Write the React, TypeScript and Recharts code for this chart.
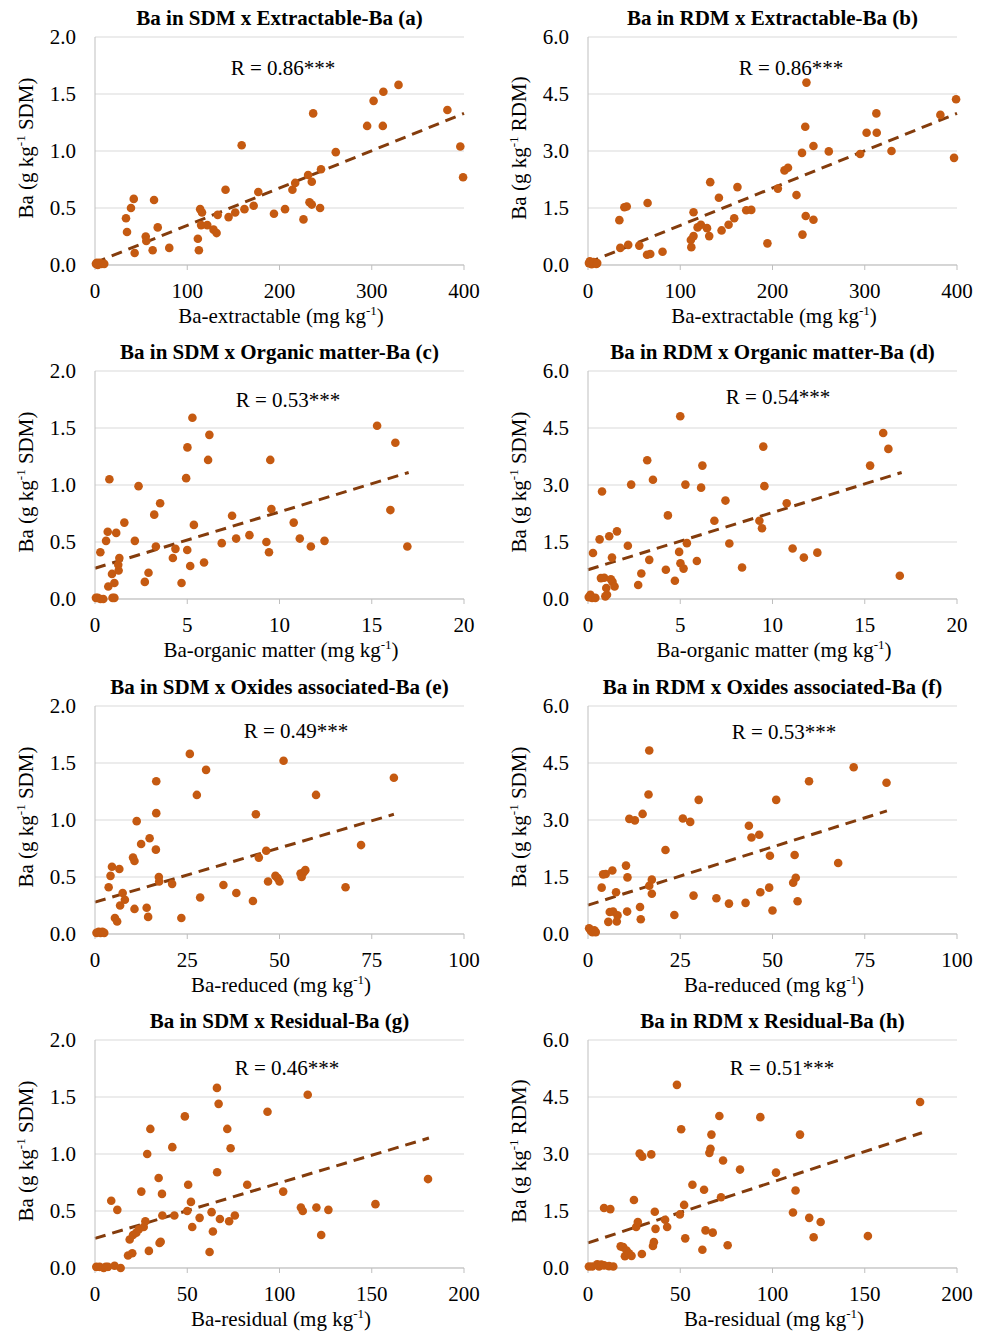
import React from 'react';
import { ScatterChart, Scatter, XAxis, YAxis, CartesianGrid, ReferenceLine } from 'recharts';

const DOT = '#c55a11';
const TREND = '#843c0c';
const GRID = '#d9d9d9';
const AXIS = '#bfbfbf';
const FONT = '"Liberation Serif", "Times New Roman", serif';

type Pt = [number, number];

const ticksExtractable = [0, 100, 200, 300, 400];
const ticksOrganic = [0, 5, 10, 15, 20];
const ticksReduced = [0, 25, 50, 75, 100];
const ticksResidual = [0, 50, 100, 150, 200];
const ticksSdm = [0, 0.5, 1, 1.5, 2];
const ticksRdm = [0, 1.5, 3, 4.5, 6];

// (a) Ba in SDM vs extractable Ba
const extractableSdm: Pt[] = [
  [1, 0.01], [3, 0.0], [5, 0.02], [7, 0.01], [10, 0.01], [2, 0.02],
  [33.6, 0.41], [34.7, 0.29], [39, 0.5], [42, 0.58], [43, 0.105], [55, 0.25], [55.6, 0.21],
  [62.5, 0.13], [64, 0.57], [68, 0.33], [80.5, 0.15], [111.5, 0.23], [112.6, 0.13], [114, 0.49],
  [116, 0.46], [115, 0.35], [121.7, 0.35], [128.5, 0.31], [131.8, 0.28], [133, 0.44], [141.5, 0.66],
  [144.8, 0.42], [152, 0.46], [159, 1.05], [162, 0.49], [172, 0.52], [177, 0.64], [194, 0.45],
  [206, 0.49], [214, 0.66], [217, 0.72], [226, 0.4], [231, 0.79], [232.5, 0.55], [235, 0.53],
  [235, 0.73], [236.5, 1.33], [244, 0.5], [245, 0.84], [261, 0.99], [295, 1.22], [302, 1.44],
  [312, 1.22], [312.6, 1.52], [329, 1.58], [382, 1.36], [396, 1.04], [399, 0.77],
];
const trendA: Pt[] = [[0, 0.02], [400, 1.33]];

// (b) Ba in RDM vs extractable Ba
const extractableRdm: Pt[] = [
  [1, 0.05], [2, 0.1], [4, 0.02], [6, 0.08], [9, 0.03], [10, 0.05],
  [34, 1.18], [35, 0.45], [39.4, 1.52], [42, 1.54], [43.6, 0.53], [55.6, 0.51], [64, 0.27],
  [64.6, 1.63], [67.5, 0.29], [80.8, 0.35], [112, 0.47], [111.5, 0.66], [114.4, 0.76], [114.4, 1.39],
  [118.8, 0.99], [122.4, 1.06], [129, 0.97], [131.4, 0.76], [132.5, 2.18], [141.9, 1.77], [144.8, 0.91],
  [152.4, 1.06], [158.5, 1.23], [162, 2.05], [171.5, 1.44], [177, 1.45], [194.5, 0.57], [205.8, 2.01],
  [213, 2.49], [216.8, 2.56], [226, 1.84], [232, 2.95], [232.5, 0.8], [235.5, 3.64], [236, 1.29],
  [236.8, 4.8], [244.4, 3.13], [244.4, 1.19], [261, 2.99], [295, 2.92], [302, 3.48], [312.6, 3.99],
  [313, 3.48], [329, 3.0], [382, 3.95], [396.8, 2.82], [399, 4.36],
];
const trendB: Pt[] = [[0, 0.06], [400, 3.99]];

// (c) Ba in SDM vs organic matter Ba
const organicSdm: Pt[] = [
  [0.05, 0.01], [0.15, 0.01], [0.3, 0.0], [0.45, 0.0], [0.95, 0.01], [1.05, 0.01],
  [0.29, 0.41], [0.6, 0.51], [0.69, 0.59], [0.78, 1.05], [0.72, 0.11], [0.92, 0.22], [1.05, 0.14],
  [1.15, 0.58], [1.28, 0.25], [1.26, 0.3], [1.32, 0.36], [1.59, 0.67], [2.16, 0.51], [2.36, 0.99],
  [2.7, 0.15], [2.9, 0.23], [3.21, 0.74], [3.3, 0.46], [3.53, 0.84], [4.22, 0.36], [4.36, 0.44],
  [4.69, 0.14], [4.94, 1.06], [5.0, 0.43], [5.01, 1.33], [5.16, 0.29], [5.28, 1.59], [5.36, 0.65],
  [5.91, 0.32], [6.13, 1.22], [6.2, 1.44], [6.87, 0.49], [7.43, 0.73], [7.65, 0.53], [8.37, 0.56],
  [9.29, 0.5], [9.43, 0.41], [9.5, 1.22], [9.56, 0.79], [10.77, 0.67], [11.1, 0.53], [11.7, 0.46],
  [12.44, 0.51], [15.29, 1.52], [16.01, 0.78], [16.28, 1.37], [16.93, 0.46],
];
const trendC: Pt[] = [[0, 0.27], [17, 1.11]];

// (d) Ba in RDM vs organic matter Ba
const organicRdm: Pt[] = [
  [0.04, 0.05], [0.13, 0.11], [0.22, 0.03], [0.4, 0.03], [0.94, 0.07], [1.03, 0.11],
  [0.27, 1.21], [0.63, 1.57], [0.76, 2.83], [0.7, 0.55], [0.88, 0.56], [0.99, 0.29], [1.15, 1.65],
  [1.24, 0.52], [1.3, 1.09], [1.33, 0.45], [1.44, 0.33], [1.57, 1.78], [2.16, 1.4], [2.34, 3.01],
  [2.72, 0.37], [2.89, 0.67], [3.21, 3.65], [3.32, 1.03], [3.52, 3.14], [4.22, 0.77], [4.33, 2.2],
  [4.71, 0.48], [4.94, 1.24], [5.0, 4.81], [5.01, 0.94], [5.18, 0.8], [5.28, 3.01], [5.36, 1.47],
  [5.9, 1.0], [6.13, 2.93], [6.2, 3.51], [6.85, 2.06], [7.45, 2.59], [7.66, 1.46], [8.35, 0.83],
  [9.29, 2.06], [9.43, 1.86], [9.5, 4.01], [9.56, 2.97], [10.77, 2.52], [11.09, 1.33], [11.7, 1.09],
  [12.43, 1.22], [15.29, 3.51], [16.0, 4.37], [16.28, 3.95], [16.9, 0.61],
];
const trendD: Pt[] = [[0, 0.77], [17, 3.33]];

// (e) Ba in SDM vs oxide associated Ba
const reducedSdm: Pt[] = [
  [0.4, 0.01], [1, 0.02], [1.5, 0.01], [2, 0.02], [2.5, 0.01],
  [3.7, 0.41], [4.2, 0.51], [4.6, 0.59], [5.4, 0.14], [6.0, 0.11], [6.6, 0.57], [6.8, 0.25],
  [7.5, 0.36], [8.1, 0.3], [10.3, 0.67], [10.7, 0.64], [10.7, 0.22], [11.3, 0.99], [12.5, 0.79],
  [14.0, 0.23], [14.4, 0.15], [14.8, 0.84], [16.5, 0.74], [16.6, 1.06], [16.6, 1.34], [17.3, 0.5],
  [17.4, 0.46], [20.9, 0.44], [23.4, 0.14], [25.7, 1.58], [27.6, 1.22], [28.5, 0.32], [30.1, 1.44],
  [34.8, 0.43], [38.3, 0.36], [42.8, 0.29], [43.6, 1.05], [44.4, 0.67], [46.4, 0.73], [46.9, 0.46],
  [48.9, 0.51], [49.5, 0.49], [50, 0.46], [51.1, 1.52], [55.7, 0.53], [56, 0.5], [56.5, 0.54],
  [57, 0.56], [59.9, 1.22], [67.9, 0.41], [72.1, 0.78], [81, 1.37],
];
const trendE: Pt[] = [[0, 0.28], [81, 1.05]];

// (f) Ba in RDM vs oxide associated Ba
const reducedRdm: Pt[] = [
  [0.3, 0.15], [0.8, 0.08], [1.2, 0.05], [1.7, 0.1], [2.1, 0.05],
  [3.7, 1.22], [4.1, 1.57], [4.8, 1.58], [5.5, 0.32], [5.9, 0.58], [6.6, 1.67], [6.8, 0.59],
  [7.6, 1.1], [7.8, 0.33], [8.0, 0.49], [10.3, 1.8], [10.6, 0.59], [10.7, 1.49], [11.2, 3.03],
  [12.7, 2.99], [14.1, 0.71], [14.3, 0.39], [14.8, 3.16], [16.4, 3.67], [16.6, 4.83], [16.6, 1.27],
  [17.3, 1.43], [17.3, 1.06], [21.0, 2.21], [23.4, 0.5], [25.7, 3.04], [27.7, 2.95], [28.6, 1.01],
  [30.0, 3.53], [34.8, 0.94], [38.2, 0.8], [42.7, 0.82], [43.6, 2.85], [44.3, 2.54], [46.4, 2.61],
  [46.7, 1.1], [49.1, 1.22], [49.3, 2.06], [50.0, 0.62], [51.0, 3.53], [55.6, 1.35], [56.0, 2.08],
  [56.3, 1.48], [56.8, 0.86], [59.9, 4.02], [67.8, 1.87], [72.0, 4.39], [80.9, 3.98],
];
const trendF: Pt[] = [[0, 0.76], [81, 3.24]];

// (g) Ba in SDM vs residual Ba
const residualSdm: Pt[] = [
  [0.7, 0.01], [2.5, 0.01], [4.7, 0.0], [5.8, 0.01], [7, 0.01], [10.6, 0.02], [13.9, 0.0],
  [8.8, 0.59], [12.1, 0.51], [17.9, 0.11], [18.8, 0.25], [20.2, 0.13], [20.6, 0.29], [22.4, 0.31],
  [23.8, 0.34], [25.1, 0.67], [26.4, 0.36], [27.3, 0.41], [28.3, 1.0], [29.2, 0.15], [30, 1.22],
  [34.5, 0.79], [35, 0.22], [35.6, 0.23], [36.3, 0.65], [36.5, 0.46], [41.9, 1.06], [43, 0.46],
  [48.7, 1.33], [50, 0.5], [50.5, 0.73], [52, 0.58], [52.7, 0.36], [56.7, 0.44], [63.2, 0.49],
  [62.1, 0.14], [63.9, 0.32], [66.1, 1.58], [66.2, 0.84], [67, 1.44], [67.7, 0.43], [71.7, 1.22],
  [72.7, 0.41], [73.5, 1.05], [75.8, 0.46], [82.5, 0.73], [93.5, 1.37], [102, 0.67], [111.6, 0.53],
  [112.6, 0.5], [115.3, 1.52], [120, 0.53], [122.6, 0.29], [126.5, 0.51], [152, 0.56], [180.5, 0.78],
];
const trendG: Pt[] = [[0, 0.26], [181, 1.14]];

// (h) Ba in RDM vs residual Ba
const residualRdm: Pt[] = [
  [0.5, 0.04], [2.3, 0.04], [5, 0.1], [6, 0.04], [7.2, 0.09], [8.7, 0.07], [11.4, 0.05], [13.7, 0.04],
  [8.7, 1.58], [12.1, 1.55], [17.7, 0.57], [19.1, 0.55], [20, 0.31], [20.9, 0.46], [22.2, 0.39],
  [23.6, 0.32], [24.9, 1.79], [26.1, 1.08], [27, 1.21], [28, 3.01], [29.4, 2.93], [29.2, 0.37],
  [34.3, 2.99], [35.2, 0.58], [35.7, 0.68], [36.2, 1.48], [36.6, 1.03], [41.8, 1.27], [42.9, 1.08],
  [48.2, 4.82], [49.8, 1.41], [50.5, 3.65], [52.1, 1.66], [52.7, 0.78], [56.6, 2.19], [62, 0.48],
  [62.9, 2.06], [63.7, 0.99], [65.8, 3.03], [66.4, 3.14], [66.9, 3.51], [67.6, 0.93], [71.2, 4.0],
  [72.1, 1.86], [73.2, 2.83], [75.7, 0.6], [82.4, 2.59], [93.4, 3.97], [101.9, 2.51], [111.1, 1.46],
  [112.5, 2.04], [114.9, 3.51], [119.9, 1.32], [122.3, 0.81], [126.1, 1.21], [151.7, 0.84], [180, 4.37],
];
const trendH: Pt[] = [[0, 0.66], [181, 3.56]];

const panels = [
  { title: 'Ba in SDM x Extractable-Ba (a)', r: 'R = 0.86***', xName: 'Ba-extractable', yName: 'SDM', xTicks: ticksExtractable, yTicks: ticksSdm, pts: extractableSdm, trend: trendA, rx: 283, ry: 68 },
  { title: 'Ba in RDM x Extractable-Ba (b)', r: 'R = 0.86***', xName: 'Ba-extractable', yName: 'RDM', xTicks: ticksExtractable, yTicks: ticksRdm, pts: extractableRdm, trend: trendB, rx: 298, ry: 68 },
  { title: 'Ba in SDM x Organic matter-Ba (c)', r: 'R = 0.53***', xName: 'Ba-organic matter', yName: 'SDM', xTicks: ticksOrganic, yTicks: ticksSdm, pts: organicSdm, trend: trendC, rx: 288, ry: 66 },
  { title: 'Ba in RDM x Organic matter-Ba (d)', r: 'R = 0.54***', xName: 'Ba-organic matter', yName: 'SDM', xTicks: ticksOrganic, yTicks: ticksRdm, pts: organicRdm, trend: trendD, rx: 285, ry: 63 },
  { title: 'Ba in SDM x Oxides associated-Ba (e)', r: 'R = 0.49***', xName: 'Ba-reduced', yName: 'SDM', xTicks: ticksReduced, yTicks: ticksSdm, pts: reducedSdm, trend: trendE, rx: 296, ry: 62 },
  { title: 'Ba in RDM x Oxides associated-Ba (f)', r: 'R = 0.53***', xName: 'Ba-reduced', yName: 'SDM', xTicks: ticksReduced, yTicks: ticksRdm, pts: reducedRdm, trend: trendF, rx: 291, ry: 63 },
  { title: 'Ba in SDM x Residual-Ba (g)', r: 'R = 0.46***', xName: 'Ba-residual', yName: 'SDM', xTicks: ticksResidual, yTicks: ticksSdm, pts: residualSdm, trend: trendG, rx: 287, ry: 65 },
  { title: 'Ba in RDM x Residual-Ba (h)', r: 'R = 0.51***', xName: 'Ba-residual', yName: 'RDM', xTicks: ticksResidual, yTicks: ticksRdm, pts: residualRdm, trend: trendH, rx: 289, ry: 65 },
];

const ROW_TOPS = [0, 334, 669, 1003];
const COL_LEFTS = [0, 493];
const W = 494;
const H = 335;

const txt: React.CSSProperties = {
  position: 'absolute',
  fontFamily: FONT,
  fontSize: 21,
  color: '#000',
  whiteSpace: 'nowrap',
  lineHeight: 1,
};

const tickStyle = { fill: '#000', fontSize: 21, fontFamily: FONT };

const Sup = ({ children }: { children: React.ReactNode }) => (
  <sup style={{ fontSize: 13, verticalAlign: 'super', lineHeight: 0 }}>{children}</sup>
);

const Dot = (props: any) => <circle cx={props.cx} cy={props.cy} r={4.3} fill={DOT} />;

const Panel = ({ p, left, top }: { p: (typeof panels)[number]; left: number; top: number }) => {
  const xMax = p.xTicks[p.xTicks.length - 1];
  const yMax = p.yTicks[p.yTicks.length - 1];
  const data = p.pts.map(([x, y]) => ({ x, y }));
  return (
    <div style={{ position: 'absolute', left, top, width: W, height: H, fontFamily: FONT }}>
      <ScatterChart
        width={W}
        height={H}
        margin={{ top: 37, right: 30, bottom: 20, left: 35 }}
        style={{ fontFamily: FONT }}
      >
        <CartesianGrid vertical={false} stroke={GRID} />
        <XAxis
          type="number"
          dataKey="x"
          domain={[0, xMax]}
          ticks={p.xTicks}
          interval={0}
          tick={tickStyle}
          tickLine={{ stroke: AXIS }}
          axisLine={{ stroke: AXIS }}
          tickSize={5}
          tickMargin={13}
          height={50}
        />
        <YAxis
          type="number"
          dataKey="y"
          domain={[0, yMax]}
          ticks={p.yTicks}
          interval={0}
          tickFormatter={(v: number) => v.toFixed(1)}
          tick={tickStyle}
          tickLine={false}
          axisLine={{ stroke: AXIS }}
          tickSize={0}
          tickMargin={19}
          width={60}
        />
        <Scatter data={data} shape={Dot} isAnimationActive={false} />
        <ReferenceLine
          segment={[
            { x: p.trend[0][0], y: p.trend[0][1] },
            { x: p.trend[1][0], y: p.trend[1][1] },
          ]}
          stroke={TREND}
          strokeWidth={3}
          strokeDasharray="11 7"
          ifOverflow="visible"
        />
      </ScatterChart>
      <div style={{ ...txt, left: 279.5, top: 18, transform: 'translate(-50%, -50%)', fontWeight: 'bold' }}>{p.title}</div>
      <div style={{ ...txt, left: p.rx, top: p.ry, transform: 'translate(-50%, -50%)' }}>{p.r}</div>
      <div style={{ ...txt, left: 281, top: 316, transform: 'translate(-50%, -50%)' }}>
        {p.xName} (mg kg<Sup>-1</Sup>)
      </div>
      <div style={{ ...txt, left: 26, top: 148, transform: 'translate(-50%, -50%) rotate(-90deg)' }}>
        Ba (g kg<Sup>-1</Sup> {p.yName})
      </div>
    </div>
  );
};

export default function App() {
  return (
    <div style={{ position: 'absolute', left: 0, top: 0, width: 988, height: 1334, background: '#fff' }}>
      {panels.map((p, i) => (
        <Panel key={i} p={p} left={COL_LEFTS[i % 2]} top={ROW_TOPS[Math.floor(i / 2)]} />
      ))}
    </div>
  );
}
